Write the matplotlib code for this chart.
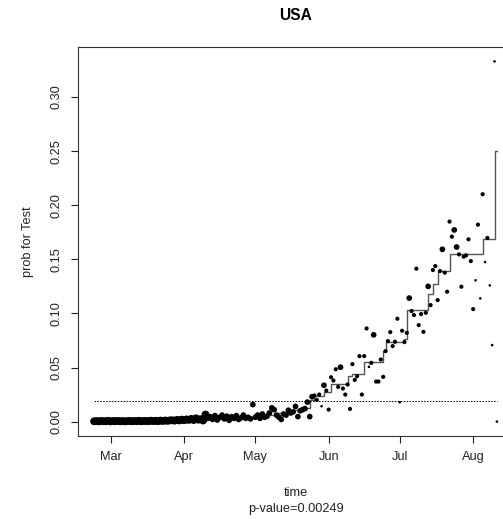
import matplotlib
matplotlib.use("Agg")
import matplotlib.pyplot as plt
import matplotlib.dates as mdates
import pandas as pd

plt.rcParams['font.family'] = ['Liberation Sans', 'DejaVu Sans']

# daily probability for the test, 23 Feb .. 11 Aug
start_date = '2020-02-23'
prob_early = [0.0003, 0.0005, 0.0002, 0.0006, 0.0004, 0.0003, 0.0007, 0.0002, 0.0005,
              0.0004, 0.0006, 0.0003, 0.0005, 0.0002, 0.0004, 0.0006, 0.0003, 0.0005,
              0.0004, 0.0007, 0.0003, 0.0005, 0.0006, 0.0004, 0.0008, 0.0005, 0.0007,
              0.0004, 0.0009, 0.0006, 0.0010, 0.0007, 0.0011]
prob_spring = [0.0012, 0.0009, 0.0015, 0.0011, 0.0018, 0.0013, 0.0020, 0.0016, 0.0025,
               0.0014, 0.0030, 0.0018, 0.0022, 0.0010, 0.0065, 0.0030, 0.0045, 0.0020,
               0.0055, 0.0015, 0.0040, 0.0060, 0.0025, 0.0050, 0.0012, 0.0045, 0.0030,
               0.0055, 0.0020, 0.0035, 0.0060, 0.0030, 0.0040, 0.0025]
prob_may = [0.0157, 0.004, 0.006, 0.003, 0.007, 0.004, 0.005, 0.008, 0.0127, 0.011,
            0.006, 0.004, 0.002, 0.007, 0.006, 0.0105, 0.008, 0.009, 0.014, 0.0046,
            0.010, 0.011, 0.012, 0.018, 0.0046, 0.023]
prob_summer = [0.0241, 0.020, 0.0250, 0.0142, 0.0336, 0.0287, 0.0111, 0.0410, 0.038,
               0.0484, 0.0321, 0.0503, 0.0306, 0.0250, 0.0343, 0.0117, 0.0531, 0.0386,
               0.0420, 0.0605, 0.0250, 0.0605, 0.0861, 0.0506, 0.0543, 0.0802, 0.037,
               0.037, 0.0574, 0.0414, 0.0651, 0.0744, 0.0827, 0.0698, 0.0738, 0.0951,
               0.0179, 0.0840, 0.0735, 0.0821, 0.1142, 0.1022, 0.0985, 0.1414, 0.0892,
               0.0994, 0.0830, 0.1006, 0.1250, 0.1077, 0.1401, 0.1438, 0.1123, 0.1392,
               0.1593, 0.1377, 0.1201, 0.1849, 0.1710, 0.1772, 0.1614, 0.1546, 0.1247,
               0.1525, 0.1537, 0.1685, 0.1484, 0.1040, 0.1306, 0.1821, 0.1139, 0.2102,
               0.1475, 0.1698, 0.1259, 0.0707, 0.333, 0.0]
prob = prob_early + prob_spring + prob_may + prob_summer

# relative weight of each day (drawn as point size)
weight_summer = [2, 2, 2, 1, 3, 2, 2, 2, 2, 2, 2, 3, 2, 2, 2, 2, 2, 2, 2, 2, 2, 2, 2, 1,
                 2, 3, 2, 2, 2, 2, 2, 2, 2, 2, 2, 2, 1, 2, 2, 2, 3, 2, 2, 2, 2, 2, 2, 2,
                 3, 2, 2, 2, 2, 2, 3, 2, 2, 2, 2, 3, 3, 2, 2, 2, 2, 2, 2, 2, 1, 2, 1, 2,
                 1, 2, 1, 1, 1, 1]
weights = [4] * 48 + [3] * 45 + weight_summer

# fitted step curve
step_dates = ['2020-02-23', '2020-03-26', '2020-04-10', '2020-04-25', '2020-05-05',
              '2020-05-10', '2020-05-15', '2020-05-20', '2020-05-24', '2020-05-26',
              '2020-05-30', '2020-06-02', '2020-06-09', '2020-06-11', '2020-06-16',
              '2020-06-24', '2020-06-25', '2020-07-03', '2020-07-04', '2020-07-13',
              '2020-07-15', '2020-07-17', '2020-07-22', '2020-08-05', '2020-08-10',
              '2020-08-11']
step_levels = [0.0003, 0.001, 0.002, 0.004, 0.006, 0.008, 0.0105, 0.013, 0.020, 0.024,
               0.027, 0.035, 0.042, 0.044, 0.055, 0.065, 0.074, 0.076, 0.103, 0.118,
               0.127, 0.139, 0.155, 0.169, 0.250, 0.250]

threshold = 0.0188
p_value = 0.00249

dates = pd.date_range(start_date, periods=len(prob))
step_x = pd.to_datetime(step_dates)
size_map = {1: 3.5, 2: 9, 3: 17, 4: 32}

W, H = 503, 519
fig = plt.figure(figsize=(W / 100, H / 100), dpi=100)
ax = fig.add_axes([78 / W, (H - 436) / H, (513 - 78) / W, (436 - 47) / H])

ax.scatter(dates, prob, s=[size_map[w] for w in weights], color='black',
           edgecolors='none', zorder=3)
ax.step(step_x, step_levels, where='post', color='#555555', linewidth=1.0, zorder=2)
ax.hlines(threshold, dates[0], dates[-1], colors='black', linestyles=(0, (1.5, 1.5)),
          linewidth=0.7)

# R-style 4% padding on both axes
span = dates[-1] - dates[0]
ax.set_xlim(dates[0] - span * 0.04, dates[-1] + span * 0.04)
ymin, ymax = min(prob), max(prob)
ax.set_ylim(ymin - (ymax - ymin) * 0.04, ymax + (ymax - ymin) * 0.04)

ax.xaxis.set_major_locator(mdates.MonthLocator())
ax.xaxis.set_major_formatter(mdates.DateFormatter('%b'))
ax.set_yticks([0.0, 0.05, 0.10, 0.15, 0.20, 0.25, 0.30])
ax.set_yticklabels([f'{v:.2f}' for v in [0.0, 0.05, 0.10, 0.15, 0.20, 0.25, 0.30]],
                   rotation=90, va='center')

ax.tick_params(direction='out', length=5, width=0.8, labelsize=9.2, pad=6,
               colors='#222222')
for sp in ax.spines.values():
    sp.set_linewidth(0.8)
    sp.set_color('#333333')

ax.set_ylabel('prob for Test', fontsize=9.2, labelpad=12, color='#222222')
fig.text(295.5 / W, 1 - 492.5 / H, 'time', ha='center', va='center', fontsize=9.2,
         color='#222222')
fig.text(295.5 / W, 1 - 509 / H, f'p-value={p_value}', ha='center', va='center',
         fontsize=9.2, color='#222222')
fig.text(295.5 / W, 1 - 16 / H, 'USA', ha='center', va='center', fontsize=11.2,
         fontweight='bold')

fig.savefig('out.png', dpi=100)
